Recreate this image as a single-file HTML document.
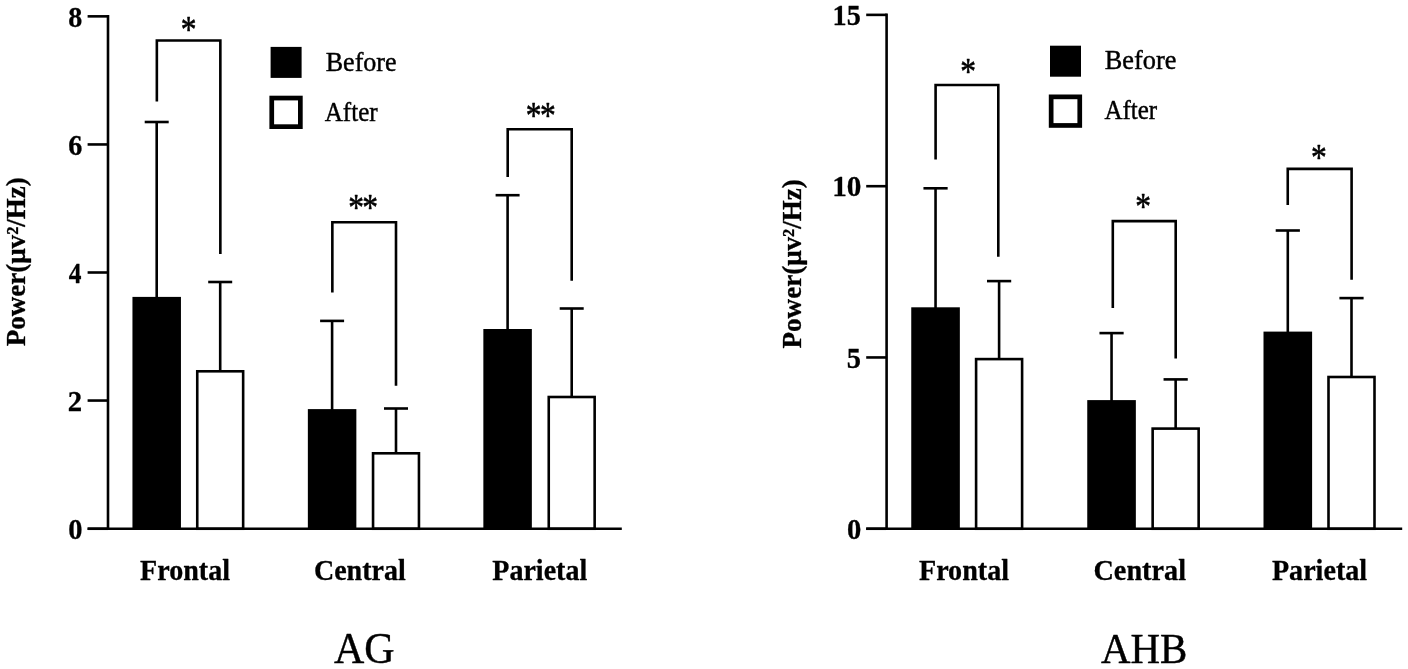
<!DOCTYPE html>
<html><head><meta charset="utf-8"><title>Power AG AHB</title>
<style>
html,body{margin:0;padding:0;background:#fff}
svg{display:block;will-change:transform}
text{font-family:"Liberation Serif",serif;fill:#000}
.b{font-weight:bold;stroke:#000;stroke-width:.3px;stroke-linejoin:round}
.r{font-weight:normal;stroke:#000;stroke-width:.45px;stroke-linejoin:round}
.s{stroke:#000;stroke-width:.42px;stroke-linejoin:round}
</style></head><body>
<svg width="1408" height="669" viewBox="0 0 1408 669">
<rect width="1408" height="669" fill="#fff"/>
<g id="ag">
<line x1="156.70" y1="122.00" x2="156.70" y2="298.90" stroke="#000" stroke-width="2.6"/>
<line x1="144.70" y1="122.00" x2="168.70" y2="122.00" stroke="#000" stroke-width="2.6"/>
<rect x="132.45" y="296.90" width="48.50" height="231.84" fill="#000"/>
<line x1="220.20" y1="282.00" x2="220.20" y2="372.00" stroke="#000" stroke-width="2.6"/>
<line x1="208.20" y1="282.00" x2="232.20" y2="282.00" stroke="#000" stroke-width="2.6"/>
<rect x="197.25" y="371.30" width="45.90" height="157.44" fill="#fff" stroke="#000" stroke-width="2.6"/>
<line x1="332.10" y1="320.90" x2="332.10" y2="411.10" stroke="#000" stroke-width="2.6"/>
<line x1="320.10" y1="320.90" x2="344.10" y2="320.90" stroke="#000" stroke-width="2.6"/>
<rect x="307.85" y="409.10" width="48.50" height="119.64" fill="#000"/>
<line x1="396.00" y1="408.50" x2="396.00" y2="454.00" stroke="#000" stroke-width="2.6"/>
<line x1="384.00" y1="408.50" x2="408.00" y2="408.50" stroke="#000" stroke-width="2.6"/>
<rect x="373.05" y="453.30" width="45.90" height="75.44" fill="#fff" stroke="#000" stroke-width="2.6"/>
<line x1="507.60" y1="195.20" x2="507.60" y2="331.00" stroke="#000" stroke-width="2.6"/>
<line x1="495.60" y1="195.20" x2="519.60" y2="195.20" stroke="#000" stroke-width="2.6"/>
<rect x="483.35" y="329.00" width="48.50" height="199.74" fill="#000"/>
<line x1="571.70" y1="308.50" x2="571.70" y2="397.70" stroke="#000" stroke-width="2.6"/>
<line x1="559.70" y1="308.50" x2="583.70" y2="308.50" stroke="#000" stroke-width="2.6"/>
<rect x="548.75" y="397.00" width="45.90" height="131.74" fill="#fff" stroke="#000" stroke-width="2.6"/>
<line x1="108.00" y1="15.05" x2="108.00" y2="530.04" stroke="#000" stroke-width="2.6"/>
<line x1="87.60" y1="528.74" x2="621.80" y2="528.74" stroke="#000" stroke-width="2.6"/>
<line x1="87.60" y1="16.35" x2="108.00" y2="16.35" stroke="#000" stroke-width="2.6"/>
<text transform="translate(68.28 26.60) scale(0.9746 1)" font-size="28.85" class="b">8</text>
<line x1="87.60" y1="144.45" x2="108.00" y2="144.45" stroke="#000" stroke-width="2.6"/>
<text transform="translate(68.28 154.70) scale(0.9761 1)" font-size="28.85" class="b">6</text>
<line x1="87.60" y1="272.50" x2="108.00" y2="272.50" stroke="#000" stroke-width="2.6"/>
<text transform="translate(68.75 282.75) scale(0.8795 1)" font-size="28.85" class="b">4</text>
<line x1="87.60" y1="400.55" x2="108.00" y2="400.55" stroke="#000" stroke-width="2.6"/>
<text transform="translate(67.85 410.80) scale(0.9946 1)" font-size="28.85" class="b">2</text>
<line x1="87.60" y1="528.74" x2="108.00" y2="528.74" stroke="#000" stroke-width="2.6"/>
<text transform="translate(68.24 538.99) scale(0.9876 1)" font-size="28.85" class="b">0</text>
<path d="M156.85 101.50V40.55H220.35V254.10" fill="none" stroke="#000" stroke-width="2.6" stroke-linejoin="miter"/>
<text transform="translate(188.50 23.80) scale(1.141 1.383)" x="0" y="13.01" text-anchor="middle" font-size="27.6" class="r s">*</text>
<path d="M332.35 292.50V222.25H396.00V385.70" fill="none" stroke="#000" stroke-width="2.6" stroke-linejoin="miter"/>
<text transform="translate(356.00 202.30) scale(1.141 1.383)" x="0" y="13.01" text-anchor="middle" font-size="27.6" class="r s">*</text>
<text transform="translate(370.20 202.30) scale(1.141 1.383)" x="0" y="13.01" text-anchor="middle" font-size="27.6" class="r s">*</text>
<path d="M507.70 176.90V129.20H571.70V280.70" fill="none" stroke="#000" stroke-width="2.6" stroke-linejoin="miter"/>
<text transform="translate(533.50 109.60) scale(1.141 1.383)" x="0" y="13.01" text-anchor="middle" font-size="27.6" class="r s">*</text>
<text transform="translate(547.75 109.60) scale(1.141 1.383)" x="0" y="13.01" text-anchor="middle" font-size="27.6" class="r s">*</text>
<text transform="translate(140.03 580.35) scale(0.9737 1)" font-size="28.85" class="b">Frontal</text>
<text transform="translate(313.89 580.35) scale(0.9714 1)" font-size="28.85" class="b">Central</text>
<text transform="translate(492.33 580.35) scale(0.9711 1)" font-size="28.85" class="b">Parietal</text>
<rect x="270.60" y="46.90" width="31" height="31" fill="#000"/>
<rect x="271.75" y="98.05" width="28.6" height="28.6" fill="#fff" stroke="#000" stroke-width="4.7"/>
<text transform="translate(325.67 71.08) scale(0.9213 1)" font-size="28.32" class="r">Before</text>
<text transform="translate(324.70 121.18) scale(0.8867 1)" font-size="28.32" class="r">After</text>
<text transform="translate(24.55 346.26) rotate(-90) scale(0.9888 1)" font-size="27.35" class="b">Power(μv²/Hz)</text>
<text transform="translate(333.92 662.57) scale(0.9641 1)" font-size="43.52" class="r">AG</text>
</g>
<g id="ahb">
<line x1="935.55" y1="188.30" x2="935.55" y2="309.30" stroke="#000" stroke-width="2.6"/>
<line x1="923.45" y1="188.30" x2="947.65" y2="188.30" stroke="#000" stroke-width="2.6"/>
<rect x="911.25" y="307.30" width="48.60" height="221.45" fill="#000"/>
<line x1="999.10" y1="281.10" x2="999.10" y2="359.80" stroke="#000" stroke-width="2.6"/>
<line x1="987.00" y1="281.10" x2="1011.20" y2="281.10" stroke="#000" stroke-width="2.6"/>
<rect x="976.10" y="359.10" width="46.00" height="169.65" fill="#fff" stroke="#000" stroke-width="2.6"/>
<line x1="1111.55" y1="333.10" x2="1111.55" y2="402.10" stroke="#000" stroke-width="2.6"/>
<line x1="1099.45" y1="333.10" x2="1123.65" y2="333.10" stroke="#000" stroke-width="2.6"/>
<rect x="1087.25" y="400.10" width="48.60" height="128.65" fill="#000"/>
<line x1="1175.65" y1="379.40" x2="1175.65" y2="429.30" stroke="#000" stroke-width="2.6"/>
<line x1="1163.55" y1="379.40" x2="1187.75" y2="379.40" stroke="#000" stroke-width="2.6"/>
<rect x="1152.65" y="428.60" width="46.00" height="100.15" fill="#fff" stroke="#000" stroke-width="2.6"/>
<line x1="1287.80" y1="230.50" x2="1287.80" y2="333.60" stroke="#000" stroke-width="2.6"/>
<line x1="1275.70" y1="230.50" x2="1299.90" y2="230.50" stroke="#000" stroke-width="2.6"/>
<rect x="1263.50" y="331.60" width="48.60" height="197.15" fill="#000"/>
<line x1="1351.50" y1="298.10" x2="1351.50" y2="377.70" stroke="#000" stroke-width="2.6"/>
<line x1="1339.40" y1="298.10" x2="1363.60" y2="298.10" stroke="#000" stroke-width="2.6"/>
<rect x="1328.50" y="377.00" width="46.00" height="151.75" fill="#fff" stroke="#000" stroke-width="2.6"/>
<line x1="886.60" y1="13.57" x2="886.60" y2="530.05" stroke="#000" stroke-width="2.6"/>
<line x1="866.20" y1="528.75" x2="1402.20" y2="528.75" stroke="#000" stroke-width="2.6"/>
<line x1="866.20" y1="14.87" x2="886.60" y2="14.87" stroke="#000" stroke-width="2.6"/>
<text transform="translate(832.59 25.12) scale(0.9793 1)" font-size="28.85" class="b">15</text>
<line x1="866.20" y1="186.20" x2="886.60" y2="186.20" stroke="#000" stroke-width="2.6"/>
<text transform="translate(832.18 196.45) scale(1.0138 1)" font-size="28.85" class="b">10</text>
<line x1="866.20" y1="357.45" x2="886.60" y2="357.45" stroke="#000" stroke-width="2.6"/>
<text transform="translate(846.81 367.70) scale(0.9870 1)" font-size="28.85" class="b">5</text>
<line x1="866.20" y1="528.75" x2="886.60" y2="528.75" stroke="#000" stroke-width="2.6"/>
<text transform="translate(846.95 539.00) scale(0.9917 1)" font-size="28.85" class="b">0</text>
<path d="M935.60 159.40V85.00H998.30V256.70" fill="none" stroke="#000" stroke-width="2.6" stroke-linejoin="miter"/>
<text transform="translate(968.00 66.15) scale(1.141 1.383)" x="0" y="13.01" text-anchor="middle" font-size="27.6" class="r s">*</text>
<path d="M1112.80 308.10V221.10H1175.70V358.60" fill="none" stroke="#000" stroke-width="2.6" stroke-linejoin="miter"/>
<text transform="translate(1143.20 201.40) scale(1.141 1.383)" x="0" y="13.01" text-anchor="middle" font-size="27.6" class="r s">*</text>
<path d="M1287.75 204.90V168.90H1351.60V279.70" fill="none" stroke="#000" stroke-width="2.6" stroke-linejoin="miter"/>
<text transform="translate(1318.75 152.00) scale(1.141 1.383)" x="0" y="13.01" text-anchor="middle" font-size="27.6" class="r s">*</text>
<text transform="translate(918.93 580.35) scale(0.9759 1)" font-size="28.85" class="b">Frontal</text>
<text transform="translate(1093.48 580.35) scale(0.9790 1)" font-size="28.85" class="b">Central</text>
<text transform="translate(1271.93 580.35) scale(0.9747 1)" font-size="28.85" class="b">Parietal</text>
<rect x="1050.00" y="45.70" width="31" height="31" fill="#000"/>
<rect x="1051.15" y="96.85" width="28.6" height="28.6" fill="#fff" stroke="#000" stroke-width="4.7"/>
<text transform="translate(1104.77 69.38) scale(0.9293 1)" font-size="28.32" class="r">Before</text>
<text transform="translate(1104.40 119.48) scale(0.8833 1)" font-size="28.32" class="r">After</text>
<text transform="translate(800.85 348.46) rotate(-90) scale(0.9899 1)" font-size="27.35" class="b">Power(μv²/Hz)</text>
<text transform="translate(1100.92 663.17) scale(0.9521 1)" font-size="42.92" class="r">AHB</text>
</g>
</svg>
</body></html>
